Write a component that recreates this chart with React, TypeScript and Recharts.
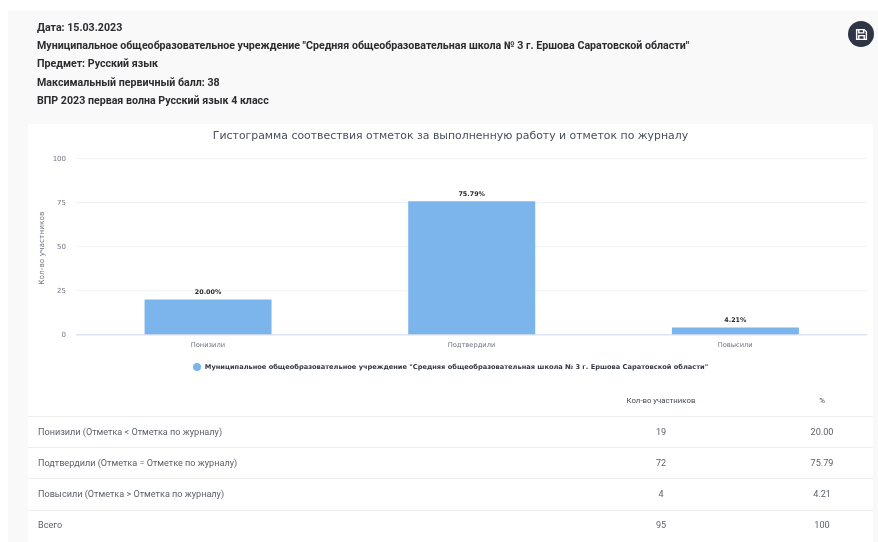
import { BarChart, Bar, XAxis, YAxis, CartesianGrid, Legend, LabelList } from 'recharts';

const headerLines = [
    'Дата: 15.03.2023',
    'Муниципальное общеобразовательное учреждение "Средняя общеобразовательная школа № 3 г. Ершова Саратовской области"',
    'Предмет: Русский язык',
    'Максимальный первичный балл: 38',
    'ВПР 2023 первая волна Русский язык 4 класс',
];
const chartTitle = 'Гистограмма соотвествия отметок за выполненную работу и отметок по журналу';
const seriesName = 'Муниципальное общеобразовательное учреждение "Средняя общеобразовательная школа № 3 г. Ершова Саратовской области"';
const categories = ['Понизили', 'Подтвердили', 'Повысили'];
const percents = [20.0, 75.79, 4.21];
const yTicks = [0, 25, 50, 75, 100];

const tableHead = ['Кол-во участников', '%'];
const rowLabels = [
    'Понизили (Отметка < Отметка по журналу)',
    'Подтвердили (Отметка = Отметке по журналу)',
    'Повысили (Отметка > Отметка по журналу)',
    'Всего',
];
const rowCounts = ['19', '72', '4', '95'];
const rowPercents = ['20.00', '75.79', '4.21', '100'];

const data = categories.map((name, i) => ({ name, value: percents[i] }));

const tickFont = { fontFamily: 'DejaVu Sans', fontSize: 6.7, fill: '#6f7480' };

export default function App() {
    return (
        <div style={{ position: 'absolute', left: 0, top: 0, width: 878, height: 542, overflow: 'hidden', background: '#fff', fontFamily: 'Roboto', filter: 'blur(0.5px)' }}>
            <div style={{ position: 'absolute', left: 8, top: 10, width: 870, height: 532, background: '#f9f9f9' }} />

            {headerLines.map((line, i) => (
                <div key={line} style={{ position: 'absolute', left: 37, top: 19 + i * 18.2, fontSize: 10.65, lineHeight: '17px', fontWeight: 700, color: '#2b2b30', whiteSpace: 'nowrap' }}>
                    {line}
                </div>
            ))}

            <div style={{ position: 'absolute', left: 848, top: 21, width: 26, height: 26, borderRadius: 13, background: '#2f3547', display: 'flex', alignItems: 'center', justifyContent: 'center' }}>
                <svg width="13" height="13" viewBox="0 0 24 24" fill="none" stroke="#fff" strokeWidth="2.6">
                    <path d="M3 3h14l4 4v14H3z" />
                    <path d="M7 3v6h9V3M7 21v-7h10v7" />
                </svg>
            </div>

            <div style={{ position: 'absolute', left: 28, top: 124, width: 845, height: 418, background: '#fff' }} />

            <div style={{ position: 'absolute', left: 28, top: 127, width: 845, textAlign: 'center', fontFamily: 'DejaVu Sans', fontSize: 10.9, lineHeight: '18px', color: '#4a4f5a', whiteSpace: 'nowrap' }}>
                {chartTitle}
            </div>

            <div style={{ position: 'absolute', left: 28, top: 124 }}>
                <BarChart width={845} height={252} data={data} margin={{ top: 34.5, right: 6, bottom: 3, left: 0 }} barCategoryGap="26%">
                    <CartesianGrid vertical={false} stroke="#f0f1f4" />
                    <XAxis dataKey="name" tick={tickFont} axisLine={{ stroke: '#d5dcf2' }} tickLine={false} tickMargin={1} />
                    <YAxis
                        width={48}
                        domain={[0, 100]}
                        ticks={yTicks}
                        tick={{ ...tickFont, fontSize: 7 }}
                        axisLine={false}
                        tickLine={false}
                        tickMargin={4}
                        label={{ value: 'Кол-во участников', angle: -90, position: 'insideLeft', offset: 13, dy: 38, style: { ...tickFont, fontSize: 7.4 } }}
                    />
                    <Legend
                        verticalAlign="bottom"
                        iconType="circle"
                        iconSize={8}
                        wrapperStyle={{ fontFamily: 'DejaVu Sans', fontSize: 6.65, fontWeight: 700, bottom: 5, transform: 'translateX(8px)' }}
                        formatter={(value: string) => <span style={{ color: '#333844' }}>{value}</span>}
                    />
                    <Bar dataKey="value" name={seriesName} fill="#7cb5ec" isAnimationActive={false}>
                        <LabelList
                            dataKey="value"
                            position="top"
                            offset={5.5}
                            formatter={(v: number) => `${v.toFixed(2)}%`}
                            style={{ fontFamily: 'DejaVu Sans', fontSize: 6.4, fontWeight: 700, fill: '#2b2b30' }}
                        />
                    </Bar>
                </BarChart>
            </div>

            <div style={{ position: 'absolute', left: 661, top: 400, transform: 'translate(-50%,-50%)', fontSize: 7.8, color: '#454a55', whiteSpace: 'nowrap' }}>{tableHead[0]}</div>
            <div style={{ position: 'absolute', left: 822, top: 400, transform: 'translate(-50%,-50%)', fontSize: 7.8, color: '#454a55' }}>{tableHead[1]}</div>

            {rowLabels.map((label, i) => (
                <div key={label}>
                    <div style={{ position: 'absolute', left: 28, top: 416 + i * 31.2, width: 845, height: 1, background: '#eeeeee' }} />
                    <div style={{ position: 'absolute', left: 38, top: 431.7 + i * 31.2, transform: 'translateY(-50%)', fontSize: 9.1, color: '#5c616b', whiteSpace: 'nowrap' }}>{label}</div>
                    <div style={{ position: 'absolute', left: 661, top: 431.7 + i * 31.2, transform: 'translate(-50%,-50%)', fontSize: 9.1, color: '#5c616b' }}>{rowCounts[i]}</div>
                    <div style={{ position: 'absolute', left: 822, top: 431.7 + i * 31.2, transform: 'translate(-50%,-50%)', fontSize: 9.1, color: '#5c616b' }}>{rowPercents[i]}</div>
                </div>
            ))}
        </div>
    );
}
